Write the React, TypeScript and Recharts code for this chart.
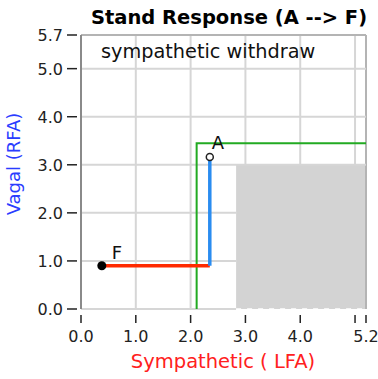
import React from 'react';
import { ComposedChart, Line, Scatter, XAxis, YAxis, ReferenceArea, ReferenceLine } from 'recharts';

// values
const xTicks = [0, 1, 2, 3, 4, 5, 5.2];
const yTicks = [0, 1, 2, 3, 4, 5, 5.7];
const xMax = 5.2;
const yMax = 5.7;

const greenX = [2.11, 2.11, 5.2];
const greenY = [0, 3.45, 3.45];

const blueX = [2.35, 2.35];
const blueY = [3.16, 0.9];

const redX = [0.38, 2.35];
const redY = [0.9, 0.9];

const pointNames = ['A', 'F'];
const pointX = [2.35, 0.38];
const pointY = [3.16, 0.9];

const grayZone = { x1: 2.83, x2: 5.2, y1: 0, y2: 3.0 };

const zip = (xs: number[], ys: number[]) => xs.map((x, i) => ({ x, y: ys[i] }));

const greenData = zip(greenX, greenY);
const blueData = zip(blueX, blueY);
const redData = zip(redX, redY);
const pointData = pointNames.map((name, i) => ({ name, x: pointX[i], y: pointY[i] }));

const FONT = '"DejaVu Sans", Verdana, sans-serif';
const GRID = '#d6d6d6';
const FRAME = '#b4b4b4';

// grid segments stop at the grey zone so it hides them
const vGrid = xTicks.filter((v) => v > 0).map((v) => ({
  v,
  from: v > grayZone.x1 && v < xMax ? grayZone.y2 : 0,
}));
const hGrid = yTicks.map((v) => ({
  v,
  to: v < grayZone.y2 ? grayZone.x1 : xMax,
}));

const YTick = (props: any) => {
  const { x, y, payload } = props;
  return (
    <g>
      <line x1={x - 14} x2={x - 4} y1={y} y2={y} stroke="#222" strokeWidth={1.5} />
      <text x={x - 18} y={y + 6} textAnchor="end" fontSize={16} fontFamily={FONT} fill="#222">
        {payload.value.toFixed(1)}
      </text>
    </g>
  );
};

const XTick = (props: any) => {
  const { x, y, payload } = props;
  const hide = payload.value === 5;
  return (
    <g>
      <line x1={x} x2={x} y1={y + 6} y2={y + 14} stroke="#222" strokeWidth={1.5} />
      {!hide && (
        <text x={x} y={y + 33} textAnchor="middle" fontSize={16} fontFamily={FONT} fill="#222">
          {payload.value.toFixed(1)}
        </text>
      )}
    </g>
  );
};

const PointShape = (props: any) => {
  const { cx, cy, payload } = props;
  const isA = payload.name === 'A';
  return (
    <g>
      {isA ? (
        <circle cx={cx} cy={cy} r={3.5} fill="#fff" stroke="#222" strokeWidth={1.5} />
      ) : (
        <circle cx={cx} cy={cy} r={4.5} fill="#000" />
      )}
      <text
        x={cx + (isA ? 2 : 10)}
        y={cy - (isA ? 8 : 7)}
        fontSize={18}
        fontFamily={FONT}
        fill="#111"
      >
        {payload.name}
      </text>
    </g>
  );
};

export default function App() {
  return (
    <div style={{ position: 'absolute', left: 0, top: 0, width: 378, height: 379, background: '#fff' }}>
      <ComposedChart width={378} height={379} margin={{ top: 35, right: 12, left: 0, bottom: 0 }}>
        <XAxis
          type="number"
          dataKey="x"
          domain={[0, xMax]}
          ticks={xTicks}
          interval={0}
          height={70}
          axisLine={false}
          tickLine={false}
          tickSize={0}
          tickMargin={0}
          tick={<XTick />}
          allowDataOverflow
        />
        <YAxis
          type="number"
          dataKey="y"
          domain={[0, yMax]}
          ticks={yTicks}
          interval={0}
          width={81}
          axisLine={{ stroke: '#8a8a8a', strokeWidth: 2 }}
          tickLine={false}
          tickSize={0}
          tickMargin={0}
          tick={<YTick />}
          allowDataOverflow
        />
        <ReferenceArea
          x1={grayZone.x1}
          x2={grayZone.x2}
          y1={grayZone.y1}
          y2={grayZone.y2}
          fill="#d3d3d3"
          fillOpacity={1}
          stroke="none"
        />
        {vGrid.map((g) => (
          <ReferenceLine
            key={'gx' + g.v}
            segment={[{ x: g.v, y: g.from }, { x: g.v, y: yMax }]}
            stroke={g.v === xMax ? FRAME : GRID}
            strokeWidth={2}
          />
        ))}
        {hGrid.map((g) => (
          <ReferenceLine
            key={'gy' + g.v}
            segment={[{ x: 0, y: g.v }, { x: g.to, y: g.v }]}
            stroke={g.v === yMax ? FRAME : GRID}
            strokeWidth={2}
          />
        ))}
        <ReferenceLine
          segment={[{ x: grayZone.x1, y: 0 }, { x: grayZone.x2, y: 0 }]}
          stroke="#fff"
          strokeWidth={1.5}
          strokeDasharray="5 6"
        />
        <Line data={greenData} dataKey="y" stroke="#22aa22" strokeWidth={2} dot={false} isAnimationActive={false} />
        <Line data={redData} dataKey="y" stroke="#ff2a00" strokeWidth={3.5} dot={false} isAnimationActive={false} />
        <Line data={blueData} dataKey="y" stroke="#2a8cf0" strokeWidth={3.5} dot={false} isAnimationActive={false} />
        <Scatter data={pointData} dataKey="y" shape={<PointShape />} isAnimationActive={false} />
      </ComposedChart>
      <div
        style={{
          position: 'absolute', left: 82, top: 6, width: 294, textAlign: 'center',
          fontFamily: FONT, fontWeight: 'bold', fontSize: 19.5, color: '#000', whiteSpace: 'nowrap',
        }}
      >
        Stand Response (A --&gt; F)
      </div>
      <div
        style={{
          position: 'absolute', left: 101, top: 40, fontFamily: FONT, fontSize: 19.3,
          color: '#111', whiteSpace: 'nowrap',
        }}
      >
        sympathetic withdraw
      </div>
      <div
        style={{
          position: 'absolute', left: 123, top: 350, width: 200, textAlign: 'center',
          fontFamily: FONT, fontSize: 19.5, color: '#ff2020', whiteSpace: 'nowrap',
        }}
      >
        Sympathetic ( LFA)
      </div>
      <div
        style={{
          position: 'absolute', left: 14, top: 164, width: 0, height: 0,
        }}
      >
        <div
          style={{
            position: 'absolute', left: -70, top: -11, width: 140, textAlign: 'center',
            transform: 'rotate(-90deg)', fontFamily: FONT, fontSize: 18, color: '#2a3cff',
            whiteSpace: 'nowrap', lineHeight: '22px',
          }}
        >
          Vagal (RFA)
        </div>
      </div>
    </div>
  );
}
